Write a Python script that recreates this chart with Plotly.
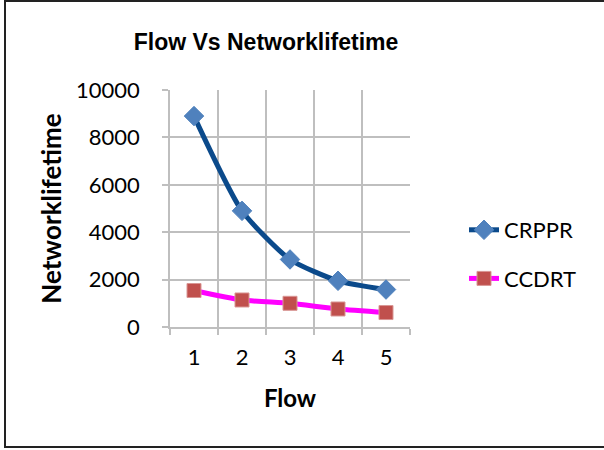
import plotly.graph_objects as go

W, H = 604, 450

flows = [1, 2, 3, 4, 5]
crppr = [8900, 4900, 2850, 1950, 1580]
ccdrt = [1540, 1140, 1000, 760, 610]
series_names = ["CRPPR", "CCDRT"]

fig = go.Figure()
fig.add_trace(go.Scatter(
    x=flows, y=crppr, name=series_names[0], mode="lines+markers",
    line=dict(color="#0B4A8B", width=5, shape="spline", smoothing=0.6),
    marker=dict(symbol="diamond", size=15, color="#4F81BD",
                line=dict(color="#4F81BD", width=1)),
    legendgroup="a",
))
fig.add_trace(go.Scatter(
    x=flows, y=ccdrt, name=series_names[1], mode="lines+markers",
    line=dict(color="#FF00FF", width=5, shape="spline", smoothing=0.6),
    marker=dict(symbol="square", size=14, color="#C0504D",
                line=dict(color="#D99694", width=1)),
    legendgroup="b",
))

x0, x1 = 170 / W, 410 / W
y0, y1 = 1 - 327 / H, 1 - 90 / H

fig.update_layout(
    width=W, height=H,
    margin=dict(l=0, r=0, t=0, b=0, autoexpand=False),
    paper_bgcolor="white", plot_bgcolor="white",
    title=dict(text="<b>Flow Vs Networklifetime</b>",
               font=dict(family="Liberation Sans, Arial", size=23, color="black"),
               x=266 / W, xanchor="center", y=1 - 42 / H, yanchor="middle"),
    showlegend=True,
    legend=dict(x=464 / W, xanchor="left", y=1 - 209 / H, yanchor="top",
                font=dict(family="Lato", size=22, color="black"),
                tracegroupgap=17, traceorder="grouped",
                bgcolor="rgba(0,0,0,0)"),
    xaxis=dict(
        domain=[x0, x1], range=[0.5, 5.5], automargin=False,
        tickvals=flows, ticktext=[str(v) for v in flows],
        showgrid=False, ticks="", showline=True, linecolor="#BFBFBF", linewidth=1.5,
        tickfont=dict(family="Lato", size=22, color="black"),
        ticklabelstandoff=10,
        minor=dict(tickvals=[0.5, 1.5, 2.5, 3.5, 4.5, 5.5], showgrid=True,
                   gridcolor="#BFBFBF", gridwidth=1.5, ticks="outside",
                   ticklen=6, tickcolor="#BFBFBF", tickwidth=1.5),
        title=dict(text="<b>Flow</b>", font=dict(family="Lato", size=24, color="black"),
                   standoff=21),
        zeroline=False, fixedrange=True,
    ),
    yaxis=dict(
        domain=[y0, y1], range=[0, 10000], dtick=2000, tickformat="d", automargin=False,
        showgrid=True, gridcolor="#BFBFBF", gridwidth=1.5,
        ticks="outside", ticklen=6, tickcolor="#BFBFBF", tickwidth=1.5,
        showline=True, linecolor="#BFBFBF", linewidth=1.5,
        tickfont=dict(family="Lato", size=22, color="black"),
        ticklabelstandoff=18,
        title=dict(text="<b>Networklifetime</b>", font=dict(family="Lato", size=26, color="black"),
                   standoff=7),
        zeroline=False, fixedrange=True,
    ),
    shapes=[dict(type="rect", xref="paper", yref="paper",
                 x0=5 / W, x1=1.02, y0=1 - 447 / H, y1=1 - 1 / H,
                 line=dict(color="#222222", width=2))],
)

fig.write_html("out.html")
